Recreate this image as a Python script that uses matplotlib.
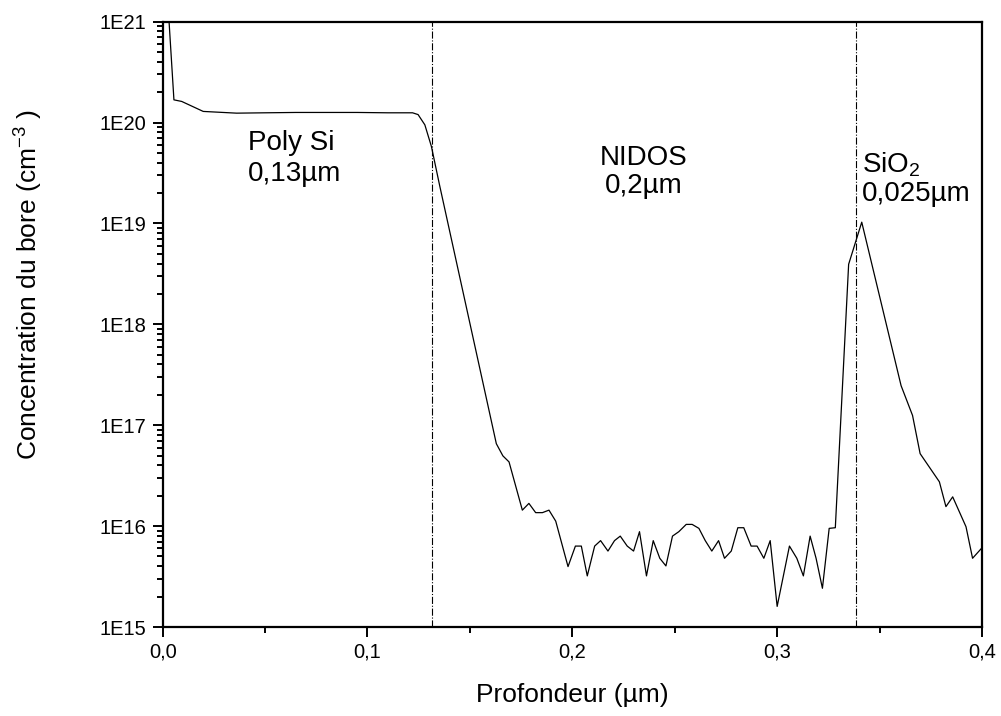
import numpy as np
import matplotlib
matplotlib.use("Agg")
import matplotlib.pyplot as plt
from matplotlib.ticker import FuncFormatter, LogLocator, MultipleLocator

plt.rcParams['font.family'] = ['Liberation Sans', 'DejaVu Sans']
plt.rcParams['mathtext.default'] = 'regular'

# profil SIMS du bore
profondeur = [0.0022, 0.0055, 0.0093, 0.0198, 0.0361, 0.050, 0.065, 0.080, 0.095, 0.110, 0.122,
              0.1247, 0.128, 0.1312, 0.1353, 0.1629, 0.1661, 0.1691, 0.1756, 0.1788, 0.1821,
              0.1854, 0.1886, 0.1919, 0.1979, 0.2015, 0.2044, 0.2073, 0.2109, 0.2138, 0.2174,
              0.2206, 0.2234, 0.2268, 0.2299, 0.2328, 0.2362, 0.2395, 0.2427, 0.2457, 0.2489,
              0.2520, 0.2556, 0.2585, 0.2618, 0.2649, 0.2681, 0.2714, 0.2743, 0.2776, 0.2808,
              0.2837, 0.2873, 0.2902, 0.2935, 0.2966, 0.3000, 0.3060, 0.3096, 0.3128, 0.3161,
              0.3190, 0.3221, 0.3254, 0.3284, 0.3349, 0.3413, 0.3605, 0.3661, 0.3698, 0.3792,
              0.3824, 0.3857, 0.3922, 0.3954, 0.3997]
concentration = [2e21, 1.68e20, 1.62e20, 1.29e20, 1.24e20, 1.25e20, 1.26e20, 1.26e20, 1.26e20, 1.25e20, 1.25e20,
                 1.20e20, 9.5e19, 5.8e19, 2.34e19, 6.56e16, 4.97e16, 4.33e16, 1.44e16, 1.68e16, 1.36e16,
                 1.36e16, 1.44e16, 1.12e16, 3.97e15, 6.34e15, 6.34e15, 3.21e15, 6.34e15, 7.18e15, 5.66e15,
                 7.18e15, 7.96e15, 6.34e15, 5.66e15, 8.81e15, 3.21e15, 7.18e15, 4.80e15, 4.03e15, 7.96e15,
                 8.81e15, 1.04e16, 1.04e16, 9.5e15, 7.18e15, 5.66e15, 7.18e15, 4.80e15, 5.66e15, 9.64e15,
                 9.64e15, 6.34e15, 6.34e15, 4.80e15, 7.18e15, 1.60e15, 6.34e15, 4.80e15, 3.21e15, 7.96e15,
                 4.80e15, 2.42e15, 9.5e15, 9.64e15, 3.94e18, 1.03e19, 2.47e17, 1.25e17, 5.23e16, 2.75e16,
                 1.56e16, 1.95e16, 9.86e15, 4.80e15, 6.0e15]

interfaces = [0.1315, 0.3385]
couches = ['Poly Si\n0,13µm', 'NIDOS\n0,2µm', 'SiO$_2$\n0,025µm']

fig = plt.figure(figsize=(10.01, 7.16), dpi=100)
ax = fig.add_axes([0.1625, 0.1243, 0.8185, 0.8454])

ax.plot(profondeur, concentration, color='black', lw=0.9)
for xi in interfaces:
    ax.axvline(xi, color='black', lw=0.8, ls='-.')

ax.set_yscale('log')
ax.set_xlim(0, 0.4)
ax.set_ylim(1e15, 1e21)

ax.xaxis.set_major_locator(MultipleLocator(0.1))
ax.xaxis.set_minor_locator(MultipleLocator(0.05))
ax.xaxis.set_major_formatter(FuncFormatter(lambda v, p: ('%.1f' % v).replace('.', ',')))
ax.yaxis.set_major_locator(LogLocator(base=10, numticks=10))
ax.yaxis.set_minor_locator(LogLocator(base=10, subs=np.arange(2, 10), numticks=10))
ax.yaxis.set_major_formatter(FuncFormatter(lambda v, p: '1E%d' % round(np.log10(v))))
ax.yaxis.set_minor_formatter(FuncFormatter(lambda v, p: ''))

ax.tick_params(which='both', direction='out', top=False, right=False, labelsize=14.5, width=1.4)
ax.tick_params(which='major', length=7.5, pad=4)
ax.tick_params(which='minor', length=4)
for s in ax.spines.values():
    s.set_linewidth(1.6)

ax.set_xlabel('Profondeur (µm)', fontsize=19)
ax.set_ylabel('Concentration du bore (cm$^{-3}$ )', fontsize=19)
ax.xaxis.set_label_coords(0.5, -0.093)
ax.yaxis.set_label_coords(-0.144, 0.565)

ax.text(0.0415, 4.4e19, couches[0], fontsize=20, ha='left', va='center', linespacing=1.25)
ax.text(0.235, 3.27e19, couches[1], fontsize=20, ha='center', va='center', linespacing=1.1)
ax.text(0.3415, 2.8e19, couches[2], fontsize=20, ha='left', va='center', linespacing=1.1)

plt.savefig('out.png', dpi=100)
plt.close()
